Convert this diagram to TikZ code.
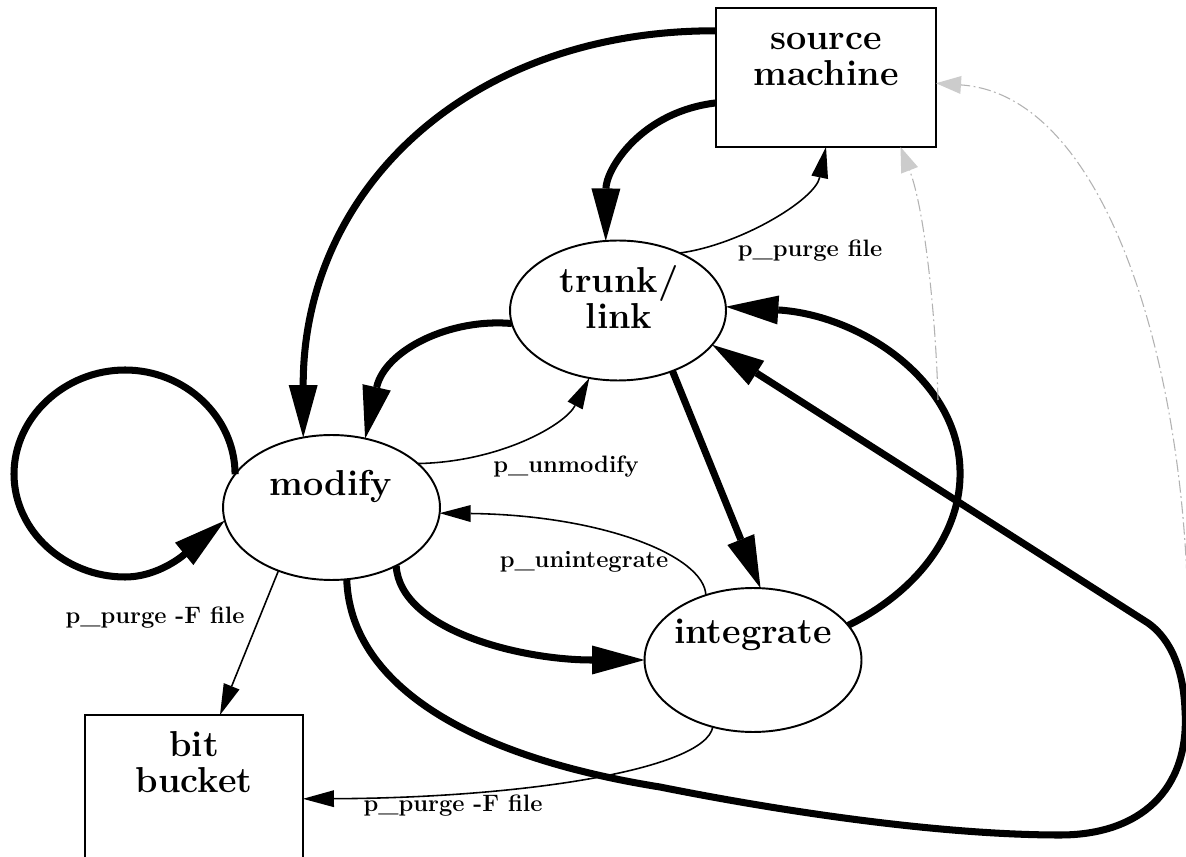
\documentclass[tikz,border=0pt]{standalone}
\usepackage{fontspec}
\usetikzlibrary{arrows.meta,shapes.geometric}
\begin{document}
\begin{tikzpicture}[x=0.02cm,y=-0.02cm,
  box/.style={draw,line width=1.1pt,rectangle,inner sep=0pt,outer sep=0pt},
  statebox/.style={draw,line width=1.1pt,ellipse,inner sep=0pt,outer sep=0pt},
  capt/.style={font=\fontsize{20.5}{20.5}\selectfont\bfseries,align=center,inner sep=0pt},
  lbl/.style={font=\fontsize{13.5}{16}\selectfont\bfseries,inner sep=0pt},
  heavy/.style={line width=4pt,-{Triangle[length=1.05cm,width=0.58cm,line width=0pt]}},
  light/.style={line width=0.9pt,-{Triangle[length=0.62cm,width=0.34cm,line width=0pt]}},
  faint/.style={gray!60,line width=0.6pt,dash pattern=on 7pt off 2pt on 1pt off 2pt,
    -{Triangle[length=0.5cm,width=0.36cm,line width=0pt,fill=gray!40]}}
]
\useasboundingbox (0,0) rectangle (1186,857);
\fill[white] (0,0) rectangle (1186,857);
\clip (0,0) rectangle (1186,857);

% boxes and states
\node[box,minimum width=4.4cm,minimum height=2.78cm] (source) at (826,77.5) {};
\node[box,minimum width=4.36cm,minimum height=3.2cm] (bucket) at (194,795) {};
\node[statebox,minimum width=4.32cm,minimum height=2.8cm] (trunk) at (618,310.5) {};
\node[statebox,minimum width=4.34cm,minimum height=2.9cm] (modify) at (331.5,507.5) {};
\node[statebox,minimum width=4.34cm,minimum height=2.88cm] (integrate) at (753,660) {};

% node captions
\node[capt] (sourceT) at (826,59) {source\\machine};
\node[capt] (bucketT) at (194,762) {bit\\bucket};
\node[capt] (trunkT) at (619,297) {trunk/\\link};
\node[capt] (modifyT) at (331,486) {modify};
\node[capt] (integrateT) at (753,635) {integrate};

% heavy transitions
\draw[heavy] (source.157.5) .. controls (468,30) and (303,190) .. (modify.112);
\draw[heavy] (source.193) .. controls (640,112) and (606,170) .. (trunk.100);
\draw[heavy] (trunk.187) .. controls (450,318) and (385,350) .. (modify.64);
\draw[heavy] (modify.161) .. controls (235,417) and (185,370) .. (125,370)
  .. controls (65,370) and (14,417) .. (14,474)
  .. controls (14,531) and (65,577) .. (125,577)
  .. controls (165,577) and (195,545) .. (modify.187);
\draw[heavy] (trunk.-48) -- (integrate.84);
\draw[heavy] (integrate.20) .. controls (920,590) and (962,530) .. (960,470)
  .. controls (958,380) and (860,315) .. (trunk.2);
\draw[heavy] (modify.-78) .. controls (350,680) and (460,755) .. (660,787)
  .. controls (800,815) and (950,835) .. (1060,835)
  .. controls (1140,835) and (1190,790) .. (1185,710)
  .. controls (1183,660) and (1165,635) .. (1148,623) -- (trunk.-20);
\draw[heavy] (modify.-42) .. controls (400,630) and (520,660) .. (integrate.180);

% light transitions with commands
\draw[light] (trunk.43) .. controls (740,245) and (815,200) .. (source.south);
\draw[light] (modify.27) .. controls (500,462) and (565,425) .. (trunk.-113);
\draw[light] (integrate.126) .. controls (704,555) and (600,515) .. (modify.-3);
\draw[light] (modify.-130) -- (bucket.72);
\draw[light] (integrate.-121) .. controls (705,770) and (520,798) .. (bucket.-2);

\node[lbl] (l1) at (810,251) {p\_purge file};
\node[lbl] (l2) at (566,467) {p\_unmodify};
\node[lbl] (l3) at (584,562) {p\_unintegrate};
\node[lbl] (l4) at (155,618) {p\_purge -F file};
\node[lbl] (l5) at (453,806) {p\_purge -F file};

% faint returns to the source machine
\coordinate (fa) at (938,400);
\coordinate (fb) at (1188,640);
\draw[faint] (fa) .. controls (936,320) and (925,210) .. (source.-43);
\draw[faint] (fb) .. controls (1190,380) and (1110,95) .. (source.-3);
\end{tikzpicture}
\end{document}
